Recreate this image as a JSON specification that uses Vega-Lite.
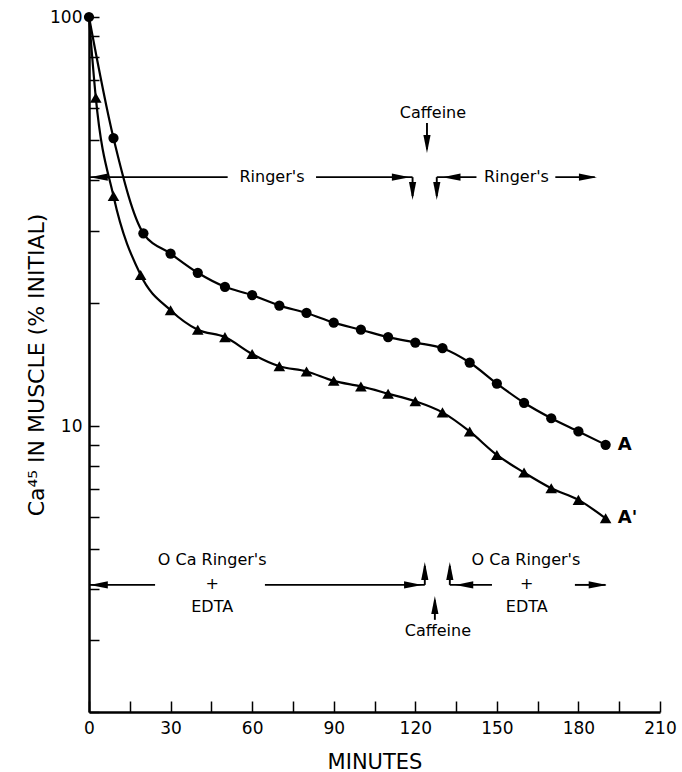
{
  "$schema": "https://vega.github.io/schema/vega-lite/v6.json",
  "width": 571,
  "height": 695,
  "autosize": "none",
  "padding": {"left": 89, "top": 17, "right": 22, "bottom": 60},
  "background": "white",
  "config": {
    "view": {"stroke": null},
    "font": "DejaVu Sans",
    "axis": {"grid": false, "domainColor": "black", "tickColor": "black", "labelColor": "black", "titleColor": "black", "titleFontWeight": "normal"}
  },
  "resolve": {"scale": {"shape": "independent", "size": "independent"}},
  "datasets": {
    "curves": [
      {"series": "A", "t": 0, "v": 100}, {"series": "A", "t": 9, "v": 50.6}, {"series": "A", "t": 20, "v": 29.6},
      {"series": "A", "t": 30, "v": 26.4}, {"series": "A", "t": 40, "v": 23.7}, {"series": "A", "t": 50, "v": 21.9},
      {"series": "A", "t": 60, "v": 20.9}, {"series": "A", "t": 70, "v": 19.7}, {"series": "A", "t": 80, "v": 18.9},
      {"series": "A", "t": 90, "v": 17.9}, {"series": "A", "t": 100, "v": 17.2}, {"series": "A", "t": 110, "v": 16.5},
      {"series": "A", "t": 120, "v": 16.0}, {"series": "A", "t": 130, "v": 15.5}, {"series": "A", "t": 140, "v": 14.3},
      {"series": "A", "t": 150, "v": 12.7}, {"series": "A", "t": 160, "v": 11.4}, {"series": "A", "t": 170, "v": 10.45},
      {"series": "A", "t": 180, "v": 9.7}, {"series": "A", "t": 190, "v": 9.0},
      {"series": "A'", "t": 0, "v": 100}, {"series": "A'", "t": 2.5, "v": 63.5}, {"series": "A'", "t": 9, "v": 36.5},
      {"series": "A'", "t": 19, "v": 23.4}, {"series": "A'", "t": 30, "v": 19.2}, {"series": "A'", "t": 40, "v": 17.2},
      {"series": "A'", "t": 50, "v": 16.5}, {"series": "A'", "t": 60, "v": 15.0}, {"series": "A'", "t": 70, "v": 14.0},
      {"series": "A'", "t": 80, "v": 13.6}, {"series": "A'", "t": 90, "v": 12.9}, {"series": "A'", "t": 100, "v": 12.5},
      {"series": "A'", "t": 110, "v": 12.0}, {"series": "A'", "t": 120, "v": 11.5}, {"series": "A'", "t": 130, "v": 10.8},
      {"series": "A'", "t": 140, "v": 9.7}, {"series": "A'", "t": 150, "v": 8.5}, {"series": "A'", "t": 160, "v": 7.7},
      {"series": "A'", "t": 170, "v": 7.05}, {"series": "A'", "t": 180, "v": 6.6}, {"series": "A'", "t": 190, "v": 5.95}
    ],
    "segs": [
      {"t": 0, "v": 40.6, "t2": 51, "v2": 40.6},
      {"t": 83.5, "v": 40.6, "t2": 119, "v2": 40.6},
      {"t": 119, "v": 40.6, "t2": 119, "v2": 36.5},
      {"t": 124.3, "v": 55.1, "t2": 124.3, "v2": 47.5},
      {"t": 127.9, "v": 40.6, "t2": 127.9, "v2": 36.5},
      {"t": 127.9, "v": 40.6, "t2": 142.5, "v2": 40.6},
      {"t": 171.5, "v": 40.6, "t2": 186, "v2": 40.6},
      {"t": 0, "v": 4.09, "t2": 24.3, "v2": 4.09},
      {"t": 64.7, "v": 4.09, "t2": 123.5, "v2": 4.09},
      {"t": 123.5, "v": 4.09, "t2": 123.5, "v2": 4.55},
      {"t": 132.7, "v": 4.09, "t2": 132.7, "v2": 4.55},
      {"t": 132.7, "v": 4.09, "t2": 148.2, "v2": 4.09},
      {"t": 178.7, "v": 4.09, "t2": 190, "v2": 4.09},
      {"t": 127.2, "v": 3.36, "t2": 127.2, "v2": 3.75}
    ],
    "heads": [
      {"t": 0.3, "v": 40.6, "dir": "left"},
      {"t": 118, "v": 40.6, "dir": "right"},
      {"t": 119, "v": 35.7, "dir": "down"},
      {"t": 124.3, "v": 46.5, "dir": "down"},
      {"t": 127.9, "v": 35.7, "dir": "down"},
      {"t": 130, "v": 40.6, "dir": "left"},
      {"t": 186.8, "v": 40.6, "dir": "right"},
      {"t": 0.3, "v": 4.09, "dir": "left"},
      {"t": 122.5, "v": 4.09, "dir": "right"},
      {"t": 123.5, "v": 4.65, "dir": "up"},
      {"t": 132.7, "v": 4.65, "dir": "up"},
      {"t": 134.7, "v": 4.09, "dir": "left"},
      {"t": 190.4, "v": 4.09, "dir": "right"},
      {"t": 127.2, "v": 3.84, "dir": "up"}
    ],
    "notes": [
      {"t": 126.5, "v": 58.3, "label": "Caffeine"},
      {"t": 67.3, "v": 40.6, "label": "Ringer's"},
      {"t": 157.2, "v": 40.6, "label": "Ringer's"},
      {"t": 45.3, "v": 4.7, "label": "O Ca Ringer's"},
      {"t": 45.3, "v": 4.1, "label": "+"},
      {"t": 45.3, "v": 3.61, "label": "EDTA"},
      {"t": 160.7, "v": 4.7, "label": "O Ca Ringer's"},
      {"t": 161, "v": 4.1, "label": "+"},
      {"t": 161, "v": 3.61, "label": "EDTA"},
      {"t": 128.3, "v": 3.15, "label": "Caffeine"}
    ],
    "serieslabels": [
      {"t": 194.5, "v": 8.98, "label": "A"},
      {"t": 194.5, "v": 5.96, "label": "A'"}
    ]
  },
  "encoding": {
    "x": {
      "field": "t", "type": "quantitative",
      "scale": {"domain": [0, 210], "nice": false, "zero": false},
      "axis": {
        "title": "MINUTES", "titleFontSize": 21, "titleY": 50, "titleBaseline": "middle",
        "values": [0, 15, 30, 45, 60, 75, 90, 105, 120, 135, 150, 165, 180, 195, 210],
        "labelExpr": "datum.value % 30 === 0 ? datum.label : ''",
        "labelFlush": false, "labelOverlap": false, "labelFontSize": 17, "labelPadding": 19,
        "tickSize": -11, "tickWidth": 1.5, "domainWidth": 2.5
      }
    },
    "y": {
      "field": "v", "type": "quantitative",
      "scale": {"type": "log", "domain": [2, 100], "nice": false},
      "axis": {
        "title": "Ca⁴⁵ IN MUSCLE (% INITIAL)", "titleFontSize": 22, "titleX": -53, "titleBaseline": "middle", "titleAngle": -90,
        "values": [2, 3, 4, 5, 6, 7, 8, 9, 10, 20, 30, 40, 50, 60, 70, 80, 90, 100],
        "labelExpr": "datum.value == 10 ? '10' : datum.value == 100 ? '100' : ''",
        "labelFlush": false, "labelOverlap": false, "labelFontSize": 17, "labelPadding": 17,
        "tickSize": -10, "tickWidth": 1.5, "domainWidth": 2.5
      }
    }
  },
  "layer": [
    {
      "data": {"name": "curves"},
      "mark": {"type": "line", "interpolate": "monotone", "color": "black", "strokeWidth": 2.2},
      "encoding": {"detail": {"field": "series"}}
    },
    {
      "data": {"name": "curves"},
      "transform": [{"filter": "datum.series == 'A' || datum.t > 0"}],
      "mark": {"type": "point", "filled": true, "color": "black", "opacity": 1},
      "encoding": {
        "shape": {"field": "series", "type": "nominal", "scale": {"domain": ["A", "A'"], "range": ["circle", "triangle-up"]}, "legend": null},
        "size": {"field": "series", "type": "nominal", "scale": {"domain": ["A", "A'"], "range": [105, 135]}, "legend": null}
      }
    },
    {
      "data": {"name": "segs"},
      "mark": {"type": "rule", "color": "black", "strokeWidth": 1.9},
      "encoding": {"x2": {"field": "t2"}, "y2": {"field": "v2"}}
    },
    {
      "data": {"name": "heads"},
      "mark": {"type": "point", "filled": true, "color": "black", "opacity": 1, "size": 324, "strokeWidth": 0},
      "encoding": {
        "shape": {"field": "dir", "type": "nominal", "legend": null,
          "scale": {"domain": ["right", "left", "up", "down"],
            "range": ["M-2,-0.4L0,0L-2,0.4Z", "M2,-0.4L0,0L2,0.4Z", "M-0.4,2L0,0L0.4,2Z", "M-0.4,-2L0,0L0.4,-2Z"]}}
      }
    },
    {
      "data": {"name": "notes"},
      "mark": {"type": "text", "fontSize": 16, "align": "center", "baseline": "middle", "color": "black"},
      "encoding": {"text": {"field": "label"}}
    },
    {
      "data": {"name": "serieslabels"},
      "mark": {"type": "text", "fontSize": 18, "fontWeight": "bold", "align": "left", "baseline": "middle", "color": "black"},
      "encoding": {"text": {"field": "label"}}
    }
  ]
}
